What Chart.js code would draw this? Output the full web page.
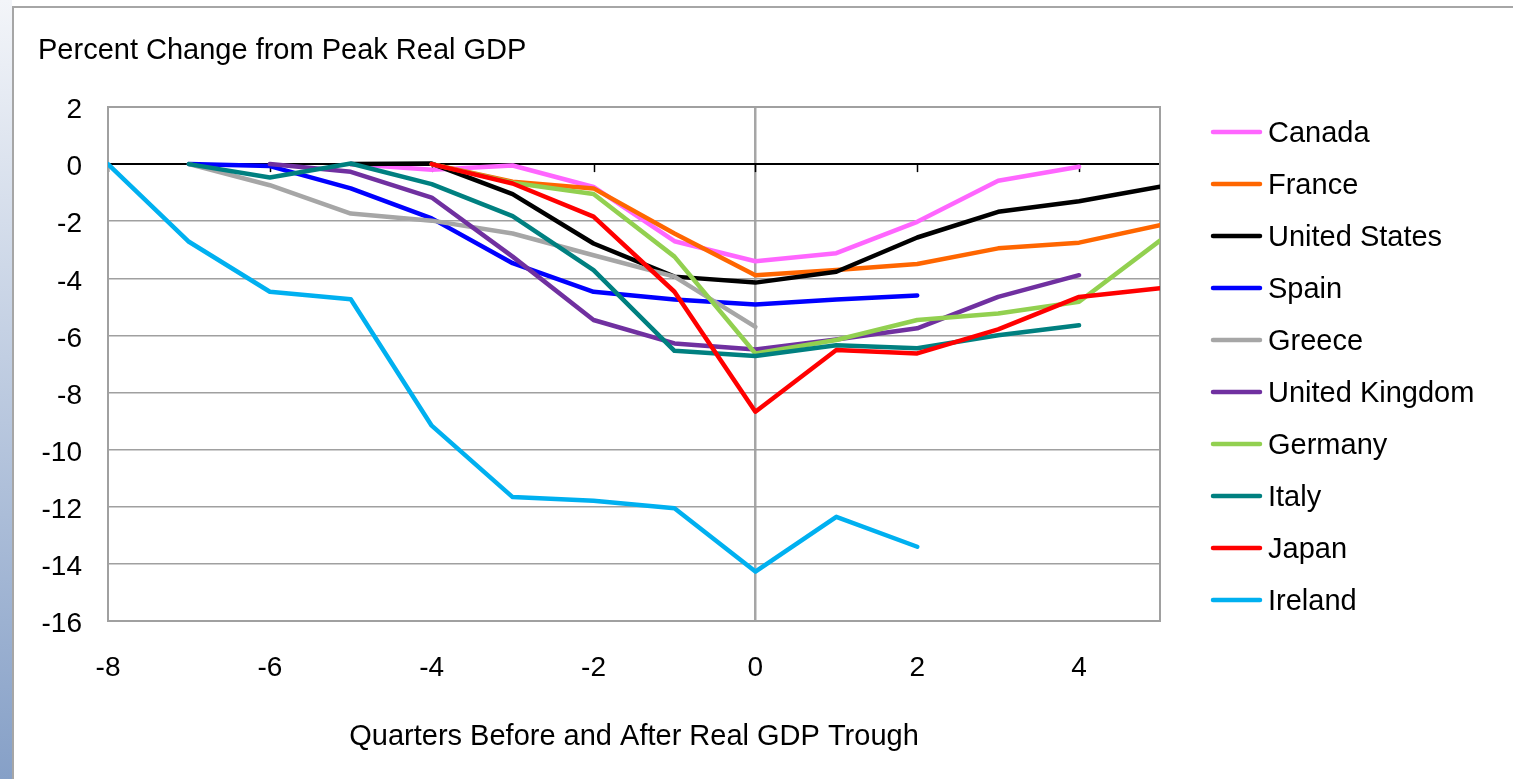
<!DOCTYPE html>
<html>
<head>
<meta charset="utf-8">
<title>Percent Change from Peak Real GDP</title>
<script src="https://cdn.jsdelivr.net/npm/chart.js@4.4.1/dist/chart.umd.min.js"></script>
<style>
  html, body { margin: 0; padding: 0; background: #fff; overflow: hidden; }
  #strip { position: absolute; left: 0; top: 0; width: 12px; height: 779px; background: linear-gradient(to bottom, #f3f5f9, #86a0c7); }
  #frame { position: absolute; left: 12px; top: 6px; width: 1520px; height: 800px; border: 2px solid #a6a6a6; background: #fff; }
  #myChart { position: absolute; left: 0; top: 0; }
</style>
</head>
<body>
<div id="strip"></div>
<div id="frame"></div>
<canvas id="myChart" width="1513" height="779"></canvas>
<script>
const quarters = [-8, -7, -6, -5, -4, -3, -2, -1, 0, 1, 2, 3, 4, 5]
const xTicks = [-8, -6, -4, -2, 0, 2, 4]
const countries = ['Canada', 'France', 'United States', 'Spain', 'Greece', 'United Kingdom', 'Germany', 'Italy', 'Japan', 'Ireland']
const colors = ['#ff66ff', '#ff6600', '#000000', '#0000ff', '#a6a6a6', '#7030a0', '#92d050', '#008080', '#ff0000', '#00b0f0']

// % change from peak, by quarter (null = no data)
const canada       = [null, null, null, 0, -0.2, -0.05, -0.8, -2.7, -3.4, -3.12, -2.02, -0.58, -0.09, null]
const france       = [null, null, null, null, 0, -0.62, -0.85, -2.43, -3.89, -3.71, -3.5, -2.95, -2.75, -2.14]
const unitedStates = [null, null, null, 0, 0.02, -1.05, -2.78, -3.94, -4.15, -3.77, -2.57, -1.67, -1.3, -0.79]
const spain        = [null, 0, -0.07, -0.85, -1.9, -3.47, -4.47, -4.74, -4.92, -4.74, -4.6, null, null, null]
const greece       = [null, 0, -0.74, -1.73, -1.98, -2.43, -3.19, -3.94, -5.7, null, null, null, null, null]
const unitedKingdom = [null, null, 0, -0.27, -1.17, -3.24, -5.46, -6.28, -6.49, -6.14, -5.75, -4.65, -3.89, null]
const germany      = [null, null, null, null, 0, -0.65, -1.05, -3.24, -6.63, -6.16, -5.46, -5.23, -4.82, -2.68]
const italy        = [null, 0, -0.47, 0.02, -0.7, -1.82, -3.71, -6.54, -6.72, -6.34, -6.45, -5.99, -5.64, null]
const japan        = [null, null, null, null, 0, -0.68, -1.84, -4.47, -8.67, -6.51, -6.63, -5.79, -4.65, -4.35]
const ireland      = [0, -2.72, -4.47, -4.73, -9.16, -11.66, -11.79, -12.05, -14.27, -12.35, -13.4, null, null, null]

const series = [canada, france, unitedStates, spain, greece, unitedKingdom, germany, italy, japan, ireland]

const FONT = '"Liberation Sans", Arial, sans-serif'
Chart.defaults.font.family = FONT
Chart.defaults.color = '#000'

// plot border + little tick marks on the zero line
const plotFrame = {
    id: 'plotFrame',
    beforeDatasetsDraw(chart){
        const {ctx, chartArea: a, scales} = chart
        const y0 = scales.y.getPixelForValue(0)
        ctx.save()
        ctx.strokeStyle = '#000'
        ctx.lineWidth = 1.5
        xTicks.forEach(v => {
            const x = Math.round(scales.x.getPixelForValue(v)) + 0.5
            ctx.beginPath()
            ctx.moveTo(x, y0)
            ctx.lineTo(x, y0 + 8)
            ctx.stroke()
        })
        ctx.strokeStyle = '#a0a0a0'
        ctx.lineWidth = 2
        ctx.strokeRect(a.left, a.top, a.right - a.left, a.bottom - a.top)
        ctx.restore()
    }
}

// legend on the right, same look as the Excel one
const sideLegend = {
    id: 'sideLegend',
    afterDraw(chart){
        const ctx = chart.ctx
        const x0 = chart.chartArea.right + 53
        ctx.save()
        ctx.font = `29px ${FONT}`
        ctx.textBaseline = 'middle'
        ctx.fillStyle = '#000'
        chart.data.datasets.forEach((ds, i) => {
            const y = 132 + i * 52
            ctx.strokeStyle = ds.borderColor
            ctx.lineWidth = 4.5
            ctx.lineCap = 'round'
            ctx.beginPath()
            ctx.moveTo(x0, y)
            ctx.lineTo(x0 + 47, y)
            ctx.stroke()
            ctx.fillText(ds.label, x0 + 55, y + 2)
        })
        ctx.restore()
    }
}

function displayChart(){
    const ctx = document.getElementById('myChart')
    new Chart(ctx, {
        type: 'line',
        data: {
            datasets: countries.map((name, i) => ({
                label: name,
                data: quarters.map((q, j) => ({x: q, y: series[i][j]})).filter(p => p.y !== null),
                borderColor: colors[i],
                backgroundColor: colors[i],
                borderWidth: 4.5,
                pointRadius: 0,
                tension: 0,
                borderJoinStyle: 'round',
                borderCapStyle: 'round',
                order: countries.length - i
            }))
        },
        options: {
            responsive: false,
            animation: false,
            events: [],
            layout: { padding: { left: 38, right: 353, top: 0, bottom: 0 } },
            scales: {
                x: {
                    type: 'linear',
                    min: -8,
                    max: 5,
                    afterBuildTicks: s => { s.ticks = xTicks.map(v => ({value: v})) },
                    afterFit: s => { s.height = 158 },
                    ticks: { padding: 30, font: { size: 28 } },
                    grid: {
                        drawTicks: false,
                        color: c => c.tick && c.tick.value === 0 ? '#a6a6a6' : 'transparent',
                        lineWidth: 2.5
                    },
                    border: { display: false },
                    title: {
                        display: true,
                        text: 'Quarters Before and After Real GDP Trough',
                        font: { size: 29 },
                        padding: { top: 0, bottom: 25 }
                    }
                },
                y: {
                    min: -16,
                    max: 2,
                    afterFit: s => { s.width = 70 },
                    ticks: { stepSize: 2, padding: 26, labelOffset: 3.5, font: { size: 28 } },
                    grid: {
                        drawTicks: false,
                        color: c => c.tick && c.tick.value === 0 ? '#000' : '#a0a0a0',
                        lineWidth: c => c.tick && c.tick.value === 0 ? 2 : 1.5
                    },
                    border: { display: false }
                }
            },
            plugins: {
                legend: { display: false },
                tooltip: { enabled: false },
                title: {
                    display: true,
                    text: 'Percent Change from Peak Real GDP',
                    align: 'start',
                    font: { size: 29, weight: 'normal' },
                    padding: { top: 34, bottom: 38.2 }
                }
            }
        },
        plugins: [plotFrame, sideLegend]
    })
}

displayChart()
</script>
</body>
</html>
